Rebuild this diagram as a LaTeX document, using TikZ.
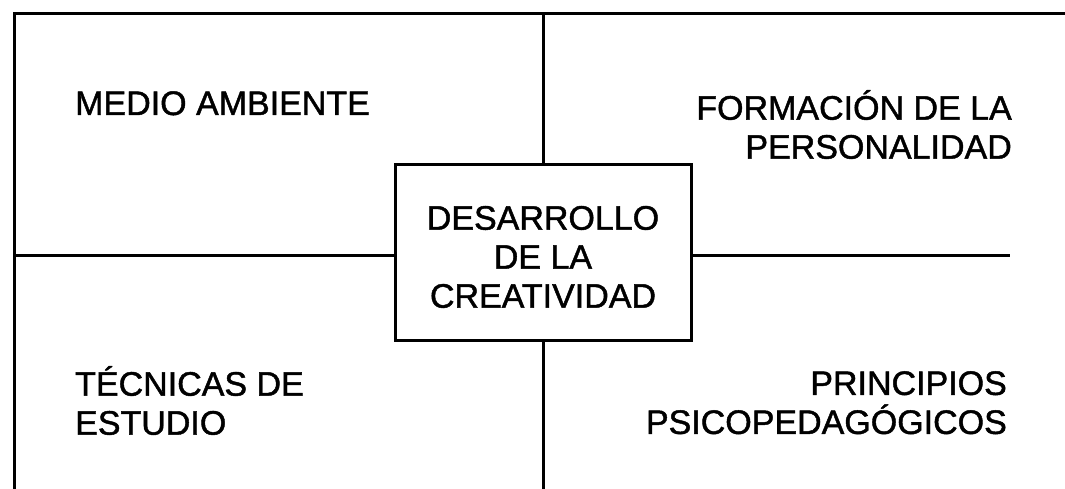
\documentclass[tikz,border=0pt]{standalone}
\usepackage{fontspec}
\setmainfont{Liberation Sans}
\newfontfamily\heavyfont{Liberation Sans}[FakeBold=1.3]
\begin{document}
\begin{tikzpicture}[x=1pt,y=-1pt,
  frameline/.style={line width=3pt,black},
  lbl/.style={inner sep=0pt,font=\heavyfont\fontsize{34}{39}\selectfont},
  centerbox/.style={draw,line width=3pt,minimum width=296pt,minimum height=175pt,inner sep=0pt}]
\useasboundingbox (0,0) rectangle (1065,489);
\coordinate (tl) at (14,14);
\coordinate (tr) at (1063,14);
\coordinate (bl) at (14,489);
\coordinate (tm) at (543,14);
\coordinate (bm) at (543,489);
\coordinate (ml) at (14,255);
\coordinate (mr) at (1010,255);
\node[centerbox] (box) at (543,252.5) {};
\node[lbl,align=center] (bt) at (543,257) {DESARROLLO\\DE LA\\CREATIVIDAD};
\draw[frameline,line cap=rect] (bl) -- (tl) -- (tr);
\draw[frameline] (tm) -- (box.north);
\draw[frameline] (box.south) -- (bm);
\draw[frameline] (ml) -- (ml -| box.west);
\draw[frameline] (mr -| box.east) -- (mr);
\node[lbl,anchor=base west] (ma) at (75,115) {MEDIO AMBIENTE};
\node[lbl,anchor=north east,align=right] (fp) at (1012,90) {FORMACIÓN DE LA\\PERSONALIDAD};
\node[lbl,anchor=north west,align=left] (te) at (75,366) {TÉCNICAS DE\\ESTUDIO};
\node[lbl,anchor=north east,align=right] (pp) at (1007,371) {PRINCIPIOS\\PSICOPEDAGÓGICOS};
\end{tikzpicture}
\end{document}
